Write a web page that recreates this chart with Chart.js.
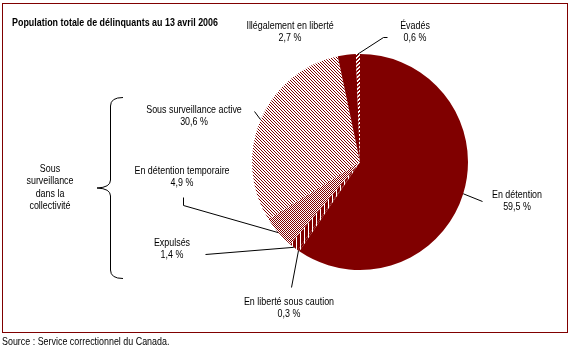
<!DOCTYPE html>
<html><head><meta charset="utf-8">
<script src="https://cdn.jsdelivr.net/npm/chart.js@4/dist/chart.umd.min.js"></script>
<style>html,body{margin:0;padding:0;background:#fff;}#wrap{position:relative;width:571px;height:352px;}</style>
</head><body>
<div id="wrap"><canvas id="c" width="571" height="352"></canvas></div>
<script>
const categories = ["En détention", "En liberté sous caution", "Expulsés", "En détention temporaire", "Sous surveillance active", "Illégalement en liberté", "Évadés"];
const values = [59.5, 0.3, 1.4, 4.9, 30.6, 2.7, 0.6];
const valueLabels = ["59,5 %", "0,3 %", "1,4 %", "4,9 %", "30,6 %", "2,7 %", "0,6 %"];
const titleText = "Population totale de délinquants au 13 avril 2006";
const groupLabel = ["Sous", "surveillance", "dans la", "collectivité"];
const sourceText = "Source : Service correctionnel du Canada.";

const RED = '#800000';
const FONT = "Arial, 'Liberation Sans', sans-serif";
const SX = 0.81;

function tile(w, h, fn) {
  const c = document.createElement('canvas'); c.width = w; c.height = h;
  const x = c.getContext('2d');
  x.fillStyle = '#fff'; x.fillRect(0, 0, w, h);
  x.fillStyle = RED;
  for (let i = 0; i < w; i++) for (let j = 0; j < h; j++) if (fn(i, j)) x.fillRect(i, j, 1, 1);
  return x.createPattern(c, 'repeat');
}
const patDiag = tile(3, 3, (i, j) => i === j);
const patCheck = tile(2, 2, (i, j) => (i + j) % 2 === 0);
const patVert = tile(4, 1, (i) => i !== 0);
const patEvad = tile(4, 4, (i, j) => (i + j) % 4 === 3 || (i + j) % 4 === 0);
const fills = [RED, patVert, patVert, patCheck, patDiag, RED, patEvad];

const labelPos = [
  {x: 517, y: 195, pts: [[482, 201]]},
  {x: 289, y: 302, pts: [[291, 287]]},
  {x: 172, y: 243, pts: [[205, 254]]},
  {x: 182, y: 171, pts: [[183, 197], [183, 205]]},
  {x: 194, y: 110, pts: [[254, 111]]},
  {x: 290, y: 26, pts: null},
  {x: 415, y: 26, pts: [[387, 37], [383, 37]]}
];

function txt(c, s, x, y, align) {
  c.save();
  c.textAlign = align;
  c.translate(x, y);
  c.scale(SX, 1);
  c.fillText(s, 0, 0);
  c.restore();
}

const deco = {
  id: 'deco',
  afterDraw(chart) {
    const c = chart.ctx;
    c.save();
    c.strokeStyle = RED; c.lineWidth = 1;
    c.strokeRect(2.5, 3.5, 565, 329);
    c.fillStyle = '#000';
    c.textBaseline = 'middle';
    c.font = "bold 11px " + FONT;
    txt(c, titleText, 12, 23, 'left');
    c.font = "11px " + FONT;
    txt(c, sourceText, 2, 342, 'left');
    const meta = chart.getDatasetMeta(0);
    meta.data.forEach((arc, i) => {
      const p = labelPos[i];
      c.fillStyle = '#000';
      txt(c, categories[i], p.x, p.y, 'center');
      txt(c, valueLabels[i], p.x, p.y + 12, 'center');
      if (p.pts) {
        const mid = (arc.startAngle + arc.endAngle) / 2;
        const ax = arc.x + Math.cos(mid) * arc.outerRadius;
        const ay = arc.y + Math.sin(mid) * arc.outerRadius;
        c.strokeStyle = '#000'; c.lineWidth = 1;
        c.beginPath();
        c.moveTo(p.pts[0][0] + 0.5, p.pts[0][1] + 0.5);
        for (let k = 1; k < p.pts.length; k++) c.lineTo(p.pts[k][0] + 0.5, p.pts[k][1] + 0.5);
        c.lineTo(ax, ay);
        c.stroke();
      }
    });
    groupLabel.forEach((t, k) => txt(c, t, 50, 169 + k * 12.4, 'center'));
    c.strokeStyle = '#000'; c.lineWidth = 1;
    c.beginPath();
    c.moveTo(123, 97.5);
    c.quadraticCurveTo(110.5, 97.5, 110.5, 106);
    c.lineTo(110.5, 180);
    c.quadraticCurveTo(110.5, 187.5, 97, 188);
    c.quadraticCurveTo(110.5, 188.5, 110.5, 196);
    c.lineTo(110.5, 270);
    c.quadraticCurveTo(110.5, 278.5, 123, 278.5);
    c.stroke();
    c.restore();
  }
};

new Chart(document.getElementById('c'), {
  type: 'pie',
  data: {
    labels: categories,
    datasets: [{ data: values, backgroundColor: fills, borderWidth: 0, hoverOffset: 0 }]
  },
  options: {
    responsive: false,
    animation: false,
    events: [],
    layout: { padding: { left: 252, right: 103, top: 54, bottom: 82 } },
    plugins: { legend: { display: false }, tooltip: { enabled: false }, title: { display: false } }
  },
  plugins: [deco]
});
</script>
</body></html>
